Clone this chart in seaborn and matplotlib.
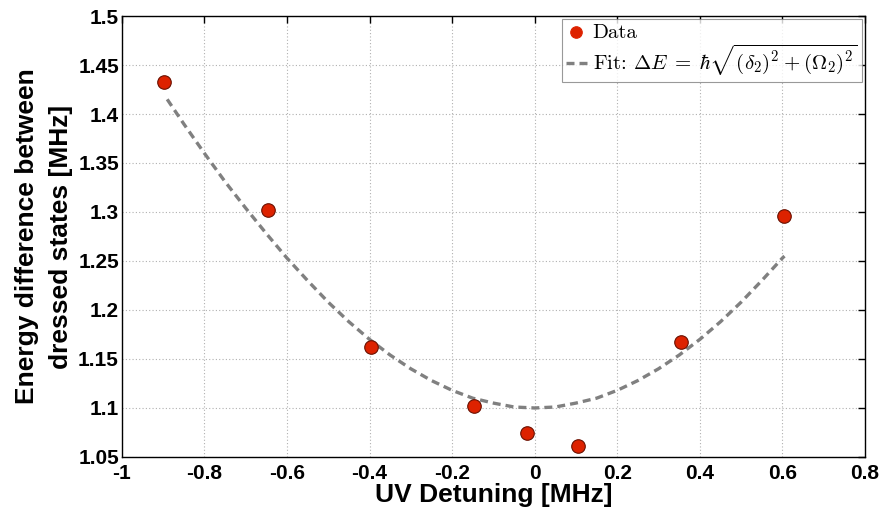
import matplotlib
matplotlib.use("Agg")
import matplotlib.pyplot as plt
import seaborn as sns
import pandas as pd

# Measured data
detuning = [-0.897, -0.645, -0.397, -0.146, -0.018, 0.104, 0.354, 0.605]
energy_diff = [1.433, 1.302, 1.162, 1.102, 1.074, 1.061, 1.167, 1.296]

# Fit curve
fit_x = [-0.89, -0.85, -0.80, -0.75, -0.70, -0.65, -0.60, -0.55, -0.50, -0.45,
         -0.40, -0.35, -0.30, -0.25, -0.20, -0.15, -0.10, -0.05, 0.00, 0.05,
         0.10, 0.15, 0.20, 0.25, 0.30, 0.35, 0.40, 0.45, 0.50, 0.55, 0.60, 0.605]
fit_y = [1.415, 1.390, 1.360, 1.331, 1.304, 1.278, 1.253, 1.230, 1.208, 1.188,
         1.170, 1.154, 1.140, 1.128, 1.118, 1.110, 1.105, 1.101, 1.100, 1.101,
         1.105, 1.110, 1.118, 1.128, 1.140, 1.154, 1.170, 1.188, 1.208, 1.230, 1.253, 1.255]

x_ticks = [-1, -0.8, -0.6, -0.4, -0.2, 0, 0.2, 0.4, 0.6, 0.8]
x_tick_labels = ["-1", "-0.8", "-0.6", "-0.4", "-0.2", "0", "0.2", "0.4", "0.6", "0.8"]
y_ticks = [1.05, 1.1, 1.15, 1.2, 1.25, 1.3, 1.35, 1.4, 1.45, 1.5]
y_tick_labels = ["1.05", "1.1", "1.15", "1.2", "1.25", "1.3", "1.35", "1.4", "1.45", "1.5"]

sns.set_style("white")
plt.rcParams["font.family"] = ["Liberation Sans", "DejaVu Sans"]
plt.rcParams["mathtext.fontset"] = "cm"
for key in ["text.color", "axes.labelcolor", "xtick.color", "ytick.color"]:
    plt.rcParams[key] = "black"

df_data = pd.DataFrame({"x": detuning, "y": energy_diff})
df_fit = pd.DataFrame({"x": fit_x, "y": fit_y})

fig = plt.figure(figsize=(8.85, 5.13), dpi=100)
ax = fig.add_axes([0.1376, 0.1092, 0.9774 - 0.1376, 0.9688 - 0.1092])

sns.scatterplot(data=df_data, x="x", y="y", ax=ax, s=95, color="#DD2200",
                edgecolor="#6a1000", linewidth=0.8, zorder=3,
                label="Data")
sns.lineplot(data=df_fit, x="x", y="y", ax=ax, color="#808080", linewidth=2.4,
             linestyle=(0, (2.4, 1.5)), sort=False, estimator=None, zorder=2,
             label=r"Fit: $\Delta E\;=\;\hbar\sqrt{(\delta_2)^2 + (\Omega_2)^2}$")

ax.set_xlim(-1, 0.8)
ax.set_ylim(1.05, 1.5)
ax.set_xticks(x_ticks)
ax.set_xticklabels(x_tick_labels)
ax.set_yticks(y_ticks)
ax.set_yticklabels(y_tick_labels)

ax.grid(True, linestyle=(0, (1, 2)), color="#b0b0b0", linewidth=0.8)
ax.tick_params(direction="in", top=True, right=True, length=5, width=1,
               labelsize=15, colors="black")
ax.tick_params(axis="x", pad=5)
ax.tick_params(axis="y", pad=2)
for lab in ax.get_xticklabels() + ax.get_yticklabels():
    lab.set_fontweight("bold")
for sp in ax.spines.values():
    sp.set_color("black")
    sp.set_linewidth(1.0)

ax.set_xlabel("UV Detuning [MHz]", fontsize=19, fontweight="bold", labelpad=0,
              color="black")
ax.set_ylabel("Energy difference between\ndressed states [MHz]", fontsize=19,
              fontweight="bold", linespacing=1.5, color="black")
ax.yaxis.set_label_coords(-0.066, 0.5)

leg = ax.legend(loc="upper right", prop={"family": ["cmr10", "DejaVu Serif"], "size": 15},
                frameon=True, fancybox=False,
                borderpad=0.2, handlelength=1.0, handletextpad=0.3,
                labelspacing=0.05, borderaxespad=0.15, markerscale=0.85)
leg.get_frame().set_edgecolor("#808080")
leg.get_frame().set_linewidth(0.8)
leg.legend_handles[0].set_edgecolor("#DD2200")
for t in leg.get_texts():
    t.set_color("black")

fig.savefig("out.png", dpi=100)
